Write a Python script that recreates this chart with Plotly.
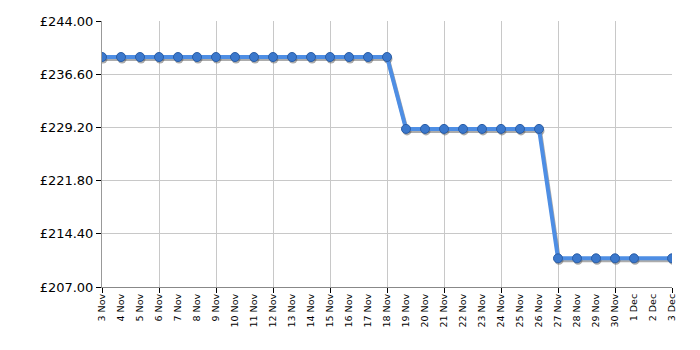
import plotly.graph_objects as go
import pandas as pd

dates = pd.date_range("2023-11-03", "2023-12-03", freq="D")
prices = ([238.99] * 16) + ([228.99] * 8) + ([210.99] * 5) + [None] + [210.99]
y_ticks = [207.00, 214.40, 221.80, 229.20, 236.60, 244.00]
y_labels = ["£%.2f" % v for v in y_ticks]
x_labels = [f"{d.day} {d.strftime('%b')}" for d in dates]

y_min, y_max = 207.0, 244.0
x_min, x_max = dates[0], dates[-1]
plot_h = 350 - 21 - 63
plot_w = 700 - 102 - 28
yshift = 2.0 * (y_max - y_min) / plot_h
xshift = pd.Timedelta(days=30) * (1.0 / plot_w)

fig = go.Figure()

# grid helper on base axes
fig.add_trace(go.Scatter(x=[x_min, x_max], y=[y_min, y_max], mode="markers",
                         marker=dict(opacity=0), hoverinfo="skip"))
# shadow
fig.add_trace(go.Scatter(
    x=dates, y=prices, xaxis="x2", yaxis="y2", mode="lines+markers",
    connectgaps=True, hoverinfo="skip",
    line=dict(color="rgba(70,70,70,0.45)", width=4),
    marker=dict(size=9, color="rgba(70,70,70,0.45)"),
))
# main
fig.add_trace(go.Scatter(
    x=dates, y=prices, xaxis="x3", yaxis="y3", mode="lines+markers", connectgaps=True,
    line=dict(color="#4e8ee4", width=4),
    marker=dict(size=9, color="#3b78cc", line=dict(color="#2a5da6", width=1)),
))

fig.update_layout(
    width=700, height=350, showlegend=False,
    margin=dict(l=102, r=28, t=21, b=63),
    plot_bgcolor="white", paper_bgcolor="white",
    font=dict(family="DejaVu Sans", color="#000"),
    xaxis=dict(
        type="date", range=[x_min, x_max], tickmode="linear",
        tick0=x_min, dtick=3 * 86400000, showticklabels=False,
        showgrid=True, gridcolor="#c8c8c8", gridwidth=1,
        ticks="outside", ticklen=5, tickcolor="#000",
        showline=True, linecolor="#888", linewidth=1, zeroline=False,
    ),
    xaxis2=dict(type="date", overlaying="x", range=[x_min - xshift, x_max - xshift], visible=False),
    xaxis3=dict(
        type="date", overlaying="x", range=[x_min, x_max], tickmode="array",
        tickvals=list(dates), ticktext=x_labels, tickangle=-90,
        tickfont=dict(size=9.5, family="DejaVu Sans"), showgrid=False,
        ticks="", showline=False, zeroline=False, side="bottom",
        ticklabelstandoff=4,
    ),
    yaxis=dict(
        range=[y_min, y_max], tickmode="array", tickvals=y_ticks, ticktext=y_labels,
        tickfont=dict(size=13), showgrid=True, gridcolor="#c8c8c8",
        ticks="outside", ticklen=5, tickcolor="#000",
        showline=True, linecolor="#999", linewidth=1, zeroline=False,
    ),
    yaxis2=dict(overlaying="y", range=[y_min + yshift, y_max + yshift], visible=False),
    yaxis3=dict(overlaying="y", range=[y_min, y_max], visible=False),
)

fig.write_html("out.html")
